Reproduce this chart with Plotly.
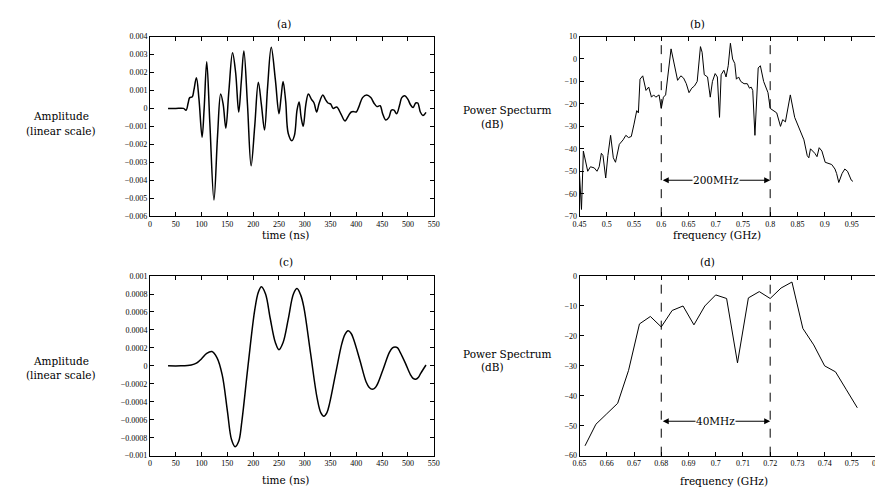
import plotly.graph_objects as go

# ---------------- data ----------------
# (a) measured time signal
t_a = [35, 50, 65, 70, 74, 77, 82, 85, 90, 95, 101, 105, 110, 116, 124, 131, 137, 142, 147, 153,
       160, 166, 172, 177, 182, 189, 196, 203, 210, 216, 222, 228, 235, 243, 250, 254, 258, 263,
       268, 275, 280, 285, 289, 293, 297, 302, 307, 313, 318, 323, 328, 335, 340, 345, 350, 355,
       362, 370, 378, 385, 390, 395, 400, 405, 412, 420, 428, 434, 440, 446, 451, 457, 463, 468,
       473, 478, 484, 488, 494, 500, 505, 510, 515, 519, 524, 529, 535]
amp_a = [0, 0, 0, -0.0001, 0.0003, 0.0006, 0.00065, 0.001, 0.0017, 0.0005, -0.0016, 0.0, 0.0026,
         -0.0008, -0.0051, -0.0015, 0.0008, 0.0002, -0.0011, 0.0010, 0.0031, 0.0020, -0.0002,
         0.0015, 0.0032, 0.0002, -0.0032, -0.0010, 0.00145, 0.0002, -0.0012, 0.0012, 0.0034,
         0.0016, -0.0003, 0.0006, 0.0015, 0.0004, -0.0014, -0.0018, -0.0015, -0.0001, 0.00035,
         -0.0005, -0.001, 0.0002, 0.0008, 0.0005, 0.0003, -0.0002, 0.0003, 0.00075, 0.0005,
         0.0003, 0.00025, 0.0, 0.00008, -0.0003, -0.0007, -0.0004, -0.0002, -0.00018, -0.0002,
         0.0001, 0.0006, 0.00075, 0.0006, 0.0003, 0.0001, 0.00015, -0.0003, -0.00065, -0.0005,
         -0.0001, -0.0001, -0.0003, 0.0002, 0.0006, 0.0007, 0.0005, 0.0002, 0.00005, 0.0003,
         0.0003, -0.0002, -0.0004, -0.00022]

# (b) power spectrum of measured signal
f_b = [0.450, 0.4535, 0.457, 0.462, 0.465, 0.470, 0.477, 0.482, 0.486, 0.490, 0.493, 0.498,
       0.502, 0.507, 0.512, 0.516, 0.523, 0.530, 0.535, 0.540, 0.545, 0.550, 0.555, 0.558,
       0.561, 0.566, 0.572, 0.577, 0.582, 0.586, 0.590, 0.596, 0.600, 0.604, 0.608, 0.618,
       0.624, 0.630, 0.636, 0.641, 0.646, 0.651, 0.656, 0.661, 0.666, 0.672, 0.675, 0.679,
       0.685, 0.690, 0.694, 0.699, 0.703, 0.707, 0.710, 0.715, 0.719, 0.723, 0.727, 0.731,
       0.735, 0.738, 0.742, 0.746, 0.752, 0.758, 0.762, 0.765, 0.768, 0.772, 0.778, 0.782,
       0.788, 0.796, 0.800, 0.806, 0.812, 0.819, 0.823, 0.828, 0.833, 0.837, 0.845, 0.856,
       0.862, 0.868, 0.871, 0.874, 0.882, 0.886, 0.890, 0.895, 0.901, 0.913, 0.919, 0.922,
       0.926, 0.932, 0.937, 0.942, 0.949, 0.952]
db_b = [-52, -67, -41, -46, -50, -48, -48.5, -50, -48, -42, -43, -53, -43, -34, -44, -46, -38,
        -36, -34, -35, -34.5, -29, -23, -24, -9, -7.5, -14, -12.5, -17, -16, -17, -16, -22, -17,
        -16, 4.5, -2, -9.5, -7.5, -8.5, -11, -15, -13, -12, -10, 5.5, 3, -7, -8, -17, -10, -6.5,
        -8, -26, -7, -5, -8, -3, 7, 0, -2, -9, -8, -10, -11, -11, -13, -12.5, -14, -34, -4, -3,
        -10, -15, -22, -23, -24, -30, -27, -28, -22, -16, -26, -32, -36, -43, -44, -40, -42,
        -43.5, -39.5, -41, -46, -47, -49, -51, -55, -51, -49, -50, -54, -54.5]

# (c) filtered time signal
t_c = [35, 60, 80, 90, 100, 110, 120, 130, 140, 150, 158, 165, 172, 178, 190, 203, 210, 216, 224,
       233, 243, 250, 258, 268, 278, 285, 292, 298, 311, 324, 331, 337, 343, 348, 360, 372, 378,
       384, 390, 395, 407, 419, 425, 431, 437, 442, 453, 464, 470, 475, 480, 485, 495, 505, 510,
       515, 520, 525, 535]
amp_c = [0, 0, 0.00001, 0.00003, 0.00008, 0.00014, 0.00016, 0.00009, -0.0001, -0.0005, -0.00082,
         -0.0009, -0.00084, -0.00062, 0.0, 0.00062, 0.00082, 0.00088, 0.00080, 0.00053, 0.00026,
         0.00018, 0.00026, 0.00052, 0.00080, 0.00086, 0.00079, 0.00066, 0.00015, -0.00036,
         -0.00052, -0.00056, -0.00052, -0.00042, -0.00008, 0.00025, 0.00035, 0.00039, 0.00036,
         0.00029, 0.00006, -0.00018, -0.00024, -0.00026, -0.00024, -0.00019, -0.00002, 0.00015,
         0.0002, 0.00021, 0.0002, 0.00015, 0.00003, -0.0001, -0.00014, -0.00015, -0.00013,
         -0.00008, 0.00001]

# (d) power spectrum of filtered signal
f_d = [0.652, 0.656, 0.660, 0.664, 0.668, 0.672, 0.676, 0.680, 0.684, 0.688, 0.692, 0.696, 0.700,
       0.704, 0.708, 0.712, 0.716, 0.720, 0.724, 0.728, 0.732, 0.736, 0.740, 0.744, 0.748, 0.752]
db_d = [-56.7, -49.5, -46, -42.5, -31.5, -16, -13.5, -17, -11.5, -10, -16.3, -10, -6.3, -7.5,
        -29, -7.3, -5.2, -7.5, -4, -2, -17.5, -23, -30, -32, -38, -44]

# tick labels
xt_time = [0, 50, 100, 150, 200, 250, 300, 350, 400, 450, 500, 550]
yt_a = [-0.006, -0.005, -0.004, -0.003, -0.002, -0.001, 0, 0.001, 0.002, 0.003, 0.004]
yt_a_text = ["\u22120.006", "\u22120.005", "\u22120.004", "\u22120.003", "\u22120.002",
             "\u22120.001", "0", "0.001", "0.002", "0.003", "0.004"]
xt_b = [0.45, 0.5, 0.55, 0.6, 0.65, 0.7, 0.75, 0.8, 0.85, 0.9, 0.95, 1.0]
xt_b_text = ["0.45", "0.5", "0.55", "0.6", "0.65", "0.7", "0.75", "0.8", "0.85", "0.9", "0.95", "1"]
yt_b = [-70, -60, -50, -40, -30, -20, -10, 0, 10]
yt_b_text = ["\u221270", "\u221260", "\u221250", "\u221240", "\u221230", "\u221220", "\u221210", "0", "10"]
yt_c = [-0.001, -0.0008, -0.0006, -0.0004, -0.0002, 0, 0.0002, 0.0004, 0.0006, 0.0008, 0.001]
yt_c_text = ["\u22120.001", "\u22120.0008", "\u22120.0006", "\u22120.0004", "\u22120.0002", "0",
             "0.0002", "0.0004", "0.0006", "0.0008", "0.001"]
xt_d = [0.65, 0.66, 0.67, 0.68, 0.69, 0.70, 0.71, 0.72, 0.73, 0.74, 0.75, 0.76]
xt_d_text = ["0.65", "0.66", "0.67", "0.68", "0.69", "0.7", "0.71", "0.72", "0.73", "0.74", "0.75", "0.76"]
yt_d = [-60, -50, -40, -30, -20, -10, 0]
yt_d_text = ["\u221260", "\u221250", "\u221240", "\u221230", "\u221220", "\u221210", "0"]

band_b = [0.6, 0.8]
band_d = [0.68, 0.72]
arrow_y_b = -54
arrow_y_d = -48.5

# ---------------- figure ----------------
W, H = 883, 489
TICKFONT = dict(family="Liberation Serif", size=8, color="black")
LABFONT = dict(family="DejaVu Serif", size=10.5, color="black")


def px(x):
    return x / W


def py(y):
    return 1 - y / H


fig = go.Figure()
fig.add_trace(go.Scatter(x=t_a, y=amp_a, mode="lines", line=dict(color="black", width=1.5, shape="spline", smoothing=1.0),
                         xaxis="x", yaxis="y"))
fig.add_trace(go.Scatter(x=f_b, y=db_b, mode="lines", line=dict(color="black", width=1.0),
                         xaxis="x2", yaxis="y2"))
fig.add_trace(go.Scatter(x=t_c, y=amp_c, mode="lines", line=dict(color="black", width=1.5, shape="spline", smoothing=1.0),
                         xaxis="x3", yaxis="y3"))
fig.add_trace(go.Scatter(x=f_d, y=db_d, mode="lines", line=dict(color="black", width=1.0),
                         xaxis="x4", yaxis="y4"))

common = dict(showline=True, linecolor="black", linewidth=1, mirror="ticks", ticks="inside",
              ticklen=4, tickcolor="black", tickwidth=1, showgrid=False, zeroline=False,
              tickfont=TICKFONT, tickmode="array")

top_dom = [py(208), py(25)]
bot_dom = [py(452), py(269)]
right_x = [px(573), px(877)]

fig.update_layout(
    width=W, height=H, margin=dict(l=0, r=0, t=0, b=0),
    paper_bgcolor="white", plot_bgcolor="white", showlegend=False,
    xaxis=dict(domain=[px(137), px(425)], range=[0, 550], tickvals=xt_time, anchor="y", **common),
    yaxis=dict(domain=top_dom, range=[-0.006, 0.004], tickvals=yt_a, ticktext=yt_a_text, anchor="x", **common),
    xaxis2=dict(domain=right_x, range=[0.45, 1.0], tickvals=xt_b, ticktext=xt_b_text, anchor="y2", **common),
    yaxis2=dict(domain=top_dom, range=[-70, 10], tickvals=yt_b, ticktext=yt_b_text, anchor="x2", **common),
    xaxis3=dict(domain=[px(137), px(425)], range=[0, 550], tickvals=xt_time, anchor="y3", **common),
    yaxis3=dict(domain=bot_dom, range=[-0.001, 0.001], tickvals=yt_c, ticktext=yt_c_text, anchor="x3", **common),
    xaxis4=dict(domain=right_x, range=[0.65, 0.76], tickvals=xt_d, ticktext=xt_d_text, anchor="y4", **common),
    yaxis4=dict(domain=bot_dom, range=[-60, 0], tickvals=yt_d, ticktext=yt_d_text, anchor="x4", **common),
)

# dashed band lines
for xv in band_b:
    fig.add_shape(type="line", xref="x2", yref="y2 domain", x0=xv, x1=xv, y0=0, y1=1,
                  line=dict(color="black", width=1, dash="dash"))
for xv in band_d:
    fig.add_shape(type="line", xref="x4", yref="y4 domain", x0=xv, x1=xv, y0=0, y1=1,
                  line=dict(color="black", width=1, dash="dash"))

# double arrows
fig.add_annotation(x=band_b[1], y=arrow_y_b, ax=band_b[0], ay=arrow_y_b, xref="x2", yref="y2",
                   axref="x2", ayref="y2", text="", showarrow=True, arrowhead=2, arrowside="end+start",
                   arrowsize=1.2, arrowwidth=1, arrowcolor="black")
fig.add_annotation(x=sum(band_b) / 2, y=arrow_y_b, xref="x2", yref="y2", text="200MHz", showarrow=False,
                   font=LABFONT, bgcolor="white", borderpad=0)
fig.add_annotation(x=band_d[1], y=arrow_y_d, ax=band_d[0], ay=arrow_y_d, xref="x4", yref="y4",
                   axref="x4", ayref="y4", text="", showarrow=True, arrowhead=2, arrowside="end+start",
                   arrowsize=1.2, arrowwidth=1, arrowcolor="black")
fig.add_annotation(x=sum(band_d) / 2, y=arrow_y_d, xref="x4", yref="y4", text="40MHz", showarrow=False,
                   font=LABFONT, bgcolor="white", borderpad=0)


def label(text, x, y, xanchor="center"):
    fig.add_annotation(x=px(x), y=py(y), xref="paper", yref="paper", text=text, showarrow=False,
                       font=LABFONT, xanchor=xanchor, yanchor="middle")


# panel titles
label("(a)", 273, 12)
label("(b)", 693, 12)
label("(c)", 275, 255)
label("(d)", 703, 255)

# axis titles
label("time (ns)", 275, 227)
label("frequency (GHz)", 712, 227)
label("time (ns)", 275, 477)
label("frequency (GHz)", 720, 478)

label("Amplitude", 47, 106)
label("(linear scale)", 47, 121)
label("Amplitude", 47, 356)
label("(linear scale)", 47, 370)

label("Power Specturm", 453, 100, "left")
label("(dB)", 471, 114, "left")
label("Power Spectrum", 453, 348, "left")
label("(dB)", 471, 362, "left")

fig.write_html("out.html")
